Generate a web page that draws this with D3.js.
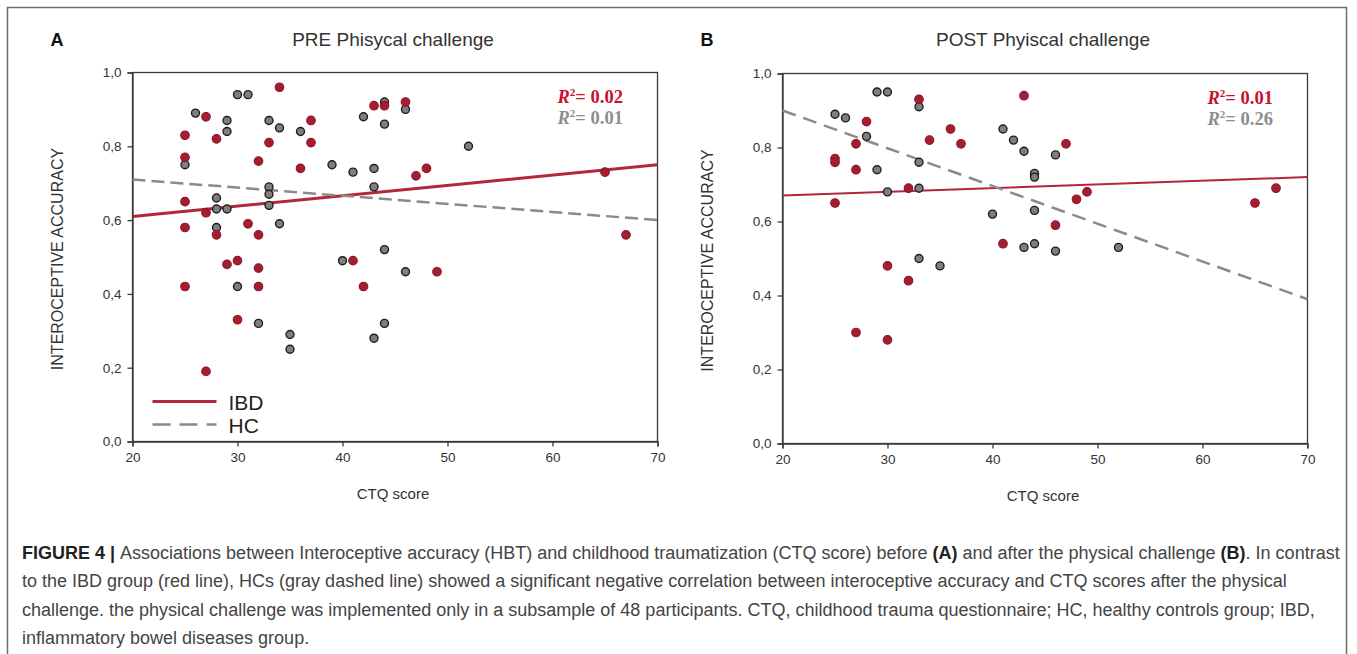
<!DOCTYPE html>
<html>
<head>
<meta charset="utf-8">
<script src="https://cdn.jsdelivr.net/npm/d3@7"></script>
<style>
  body { margin: 0; background: #fff; }
  svg { display: block; }
</style>
</head>
<body>
<svg id="fig" width="1357" height="654"></svg>
<script>
// values: [CTQ score, interoceptive accuracy]
var preIBD = [[25,0.83],[25,0.77],[25,0.65],[25,0.58],[25,0.42],[27,0.88],[27,0.62],[27,0.19],
  [28,0.82],[28,0.56],[29,0.48],[30,0.49],[30,0.33],[31,0.59],[32,0.76],[32,0.56],[32,0.47],
  [32,0.42],[33,0.81],[34,0.96],[36,0.74],[37,0.87],[37,0.81],[41,0.49],[42,0.42],[43,0.91],
  [44,0.91],[46,0.92],[47,0.72],[48,0.74],[49,0.46],[65,0.73],[67,0.56]];
var preHC = [[25,0.75],[26,0.89],[28,0.66],[28,0.63],[28,0.58],[29,0.87],[29,0.84],[29,0.63],
  [30,0.94],[30,0.42],[31,0.94],[32,0.32],[33,0.87],[33,0.69],[33,0.67],[33,0.64],[34,0.85],
  [34,0.59],[35,0.29],[35,0.25],[36,0.84],[39,0.75],[40,0.49],[41,0.73],[42,0.88],[43,0.74],
  [43,0.69],[43,0.28],[44,0.92],[44,0.86],[44,0.52],[44,0.32],[46,0.90],[46,0.46],[52,0.80]];
var postIBD = [[25,0.77],[25,0.76],[25,0.65],[27,0.81],[27,0.74],[27,0.30],[28,0.87],[30,0.48],
  [30,0.28],[32,0.69],[32,0.44],[33,0.93],[34,0.82],[36,0.85],[37,0.81],[41,0.54],[43,0.94],
  [46,0.59],[47,0.81],[48,0.66],[49,0.68],[65,0.65],[67,0.69]];
var postHC = [[25,0.89],[26,0.88],[28,0.83],[29,0.95],[29,0.74],[30,0.95],[30,0.68],[33,0.91],
  [33,0.76],[33,0.69],[33,0.50],[35,0.48],[40,0.62],[41,0.85],[42,0.82],[43,0.79],[43,0.53],
  [44,0.73],[44,0.72],[44,0.63],[44,0.54],[46,0.78],[46,0.52],[52,0.53]];

// fitted lines, value at CTQ 20 and at CTQ 70
var preFitIBD = [[20,0.61],[70,0.75]];
var preFitHC = [[20,0.71],[70,0.60]];
var postFitIBD = [[20,0.67],[70,0.72]];
var postFitHC = [[20,0.90],[70,0.39]];

var preR2 = ["0.02","0.01"];
var postR2 = ["0.01","0.26"];

var xTicks = [20,30,40,50,60,70];
var yTicks = [0,0.2,0.4,0.6,0.8,1.0];
var legendNames = ["IBD","HC"];

var RED = "#a51d30", REDLINE = "#b3273d", GRAY = "#7f7f7f";

var comma = d3.formatLocale({decimal: ",", thousands: ".", grouping: [3], currency: ["",""]}).format(".1f");

var svg = d3.select("#fig");

// outer figure frame
svg.append("rect").attr("x",7.5).attr("y",7.5).attr("width",1339).attr("height",670)
  .attr("fill","none").attr("stroke","#6d6d6d").attr("stroke-width",1.5);

var panels = [
  {tag:"A", title:"PRE Phisycal challenge", ibd:preIBD, hc:preHC, fitIBD:preFitIBD, fitHC:preFitHC,
   r2:preR2, left:132.5, top:72.5, w:525, h:369, legend:true, ibdW:3, dash:"13,6"},
  {tag:"B", title:"POST Phyiscal challenge", ibd:postIBD, hc:postHC, fitIBD:postFitIBD, fitHC:postFitHC,
   r2:postR2, left:782.5, top:73.5, w:525, h:370, legend:false, ibdW:2, dash:"14,8"}
];

panels.forEach(function(p){
  var g = svg.append("g").attr("transform","translate(" + p.left + "," + p.top + ")");
  var x = d3.scaleLinear().domain([20,70]).range([0,p.w]);
  var y = d3.scaleLinear().domain([0,1]).range([p.h,0]);

  // frame
  g.append("rect").attr("width",p.w).attr("height",p.h)
    .attr("fill","none").attr("stroke","#3a3a3a").attr("stroke-width",1.3);

  var xa = g.append("g").attr("transform","translate(0," + p.h + ")")
    .call(d3.axisBottom(x).tickValues(xTicks).tickSize(5).tickPadding(6).tickFormat(d3.format("d")));
  var ya = g.append("g")
    .call(d3.axisLeft(y).tickValues(yTicks).tickSize(5).tickPadding(6).tickFormat(comma));
  [xa,ya].forEach(function(a){
    a.select(".domain").attr("stroke","#3a3a3a").attr("stroke-width",1.3);
    a.selectAll(".tick line").attr("stroke","#3a3a3a").attr("stroke-width",1.3);
    a.selectAll("text").attr("font-family","Liberation Sans, Arial, sans-serif")
      .attr("font-size",13.5).attr("fill","#333");
  });

  // regression lines
  var line = d3.line().x(function(d){return x(d[0]);}).y(function(d){return y(d[1]);});
  g.append("path").datum(p.fitIBD).attr("d",line).attr("fill","none")
    .attr("stroke",REDLINE).attr("stroke-width",p.ibdW);
  g.append("path").datum(p.fitHC).attr("d",line).attr("fill","none")
    .attr("stroke","#8a8a8a").attr("stroke-width",2.5).attr("stroke-dasharray",p.dash);

  // points
  g.selectAll("circle.hc").data(p.hc).enter().append("circle").attr("class","hc")
    .attr("cx",function(d){return x(d[0]);}).attr("cy",function(d){return y(d[1]);})
    .attr("r",4).attr("fill",GRAY).attr("stroke","#1e1e1e").attr("stroke-width",1.4);
  g.selectAll("circle.ibd").data(p.ibd).enter().append("circle").attr("class","ibd")
    .attr("cx",function(d){return x(d[0]);}).attr("cy",function(d){return y(d[1]);})
    .attr("r",4.3).attr("fill",RED).attr("stroke","#8c1626").attr("stroke-width",1.1);

  // R squared
  var r2Cols = ["#c8102e","#8d8d8d"];
  p.r2.forEach(function(v,i){
    var t = g.append("text").attr("x",p.w - 100).attr("y",30 + i*21)
      .attr("font-family","Liberation Serif, Times New Roman, serif").attr("font-weight","bold")
      .attr("font-size",18.5).attr("fill",r2Cols[i]);
    t.append("tspan").attr("font-style","italic").text("R");
    t.append("tspan").attr("font-size",11).attr("dy",-7).text("2");
    t.append("tspan").attr("dy",7).text("= " + v);
  });

  // titles
  svg.append("text").attr("x",p.left + p.w/2 - 2).attr("y",46).attr("text-anchor","middle")
    .attr("font-family","Liberation Sans, Arial, sans-serif").attr("font-size",19).attr("fill","#333")
    .text(p.title);
  svg.append("text").attr("x",p.left - 82).attr("y",46)
    .attr("font-family","Liberation Sans, Arial, sans-serif").attr("font-size",18).attr("font-weight","bold")
    .attr("fill","#111").text(p.tag);
  svg.append("text").attr("x",p.left + p.w/2 - 2).attr("y",p.top + p.h + 57).attr("text-anchor","middle")
    .attr("font-family","Liberation Sans, Arial, sans-serif").attr("font-size",15).attr("fill","#333")
    .text("CTQ score");
  svg.append("text").attr("transform","translate(" + (p.left - 70) + "," + (p.top + p.h*0.5 + 2) + ") rotate(-90)")
    .attr("text-anchor","middle").attr("font-family","Liberation Sans, Arial, sans-serif")
    .attr("font-size",16).attr("fill","#333").text("INTEROCEPTIVE ACCURACY");

  if (p.legend) {
    var lg = g.append("g").attr("transform","translate(20," + (p.h - 40) + ")");
    legendNames.forEach(function(n,i){
      lg.append("line").attr("x1",0).attr("x2",64).attr("y1",i*23).attr("y2",i*23)
        .attr("stroke", i == 0 ? REDLINE : "#8a8a8a").attr("stroke-width", i == 0 ? 3 : 2.5)
        .attr("stroke-dasharray", i == 0 ? null : "18,9");
      lg.append("text").attr("x",76).attr("y",i*23 + 8).attr("font-family","Liberation Sans, Arial, sans-serif")
        .attr("font-size",21).attr("fill","#222").text(n);
    });
  }
});

// caption
var caption = [
  [["FIGURE 4 | ",true],["Associations between Interoceptive accuracy (HBT) and childhood traumatization (CTQ score) before ",false],["(A)",true],[" and after the physical challenge ",false],["(B)",true],[". In contrast",false]],
  [["to the IBD group (red line), HCs (gray dashed line) showed a significant negative correlation between interoceptive accuracy and CTQ scores after the physical",false]],
  [["challenge. the physical challenge was implemented only in a subsample of 48 participants. CTQ, childhood trauma questionnaire; HC, healthy controls group; IBD,",false]],
  [["inflammatory bowel diseases group.",false]]
];
caption.forEach(function(parts,i){
  var t = svg.append("text").attr("x",22).attr("y",559 + i*28.3)
    .attr("font-family","Liberation Sans Narrow, Arial Narrow, sans-serif").attr("font-size",18).attr("fill","#444");
  parts.forEach(function(pt){
    t.append("tspan").attr("font-weight", pt[1] ? "bold" : null).attr("fill", pt[1] ? "#222" : null).text(pt[0]);
  });
});
</script>
</body>
</html>
